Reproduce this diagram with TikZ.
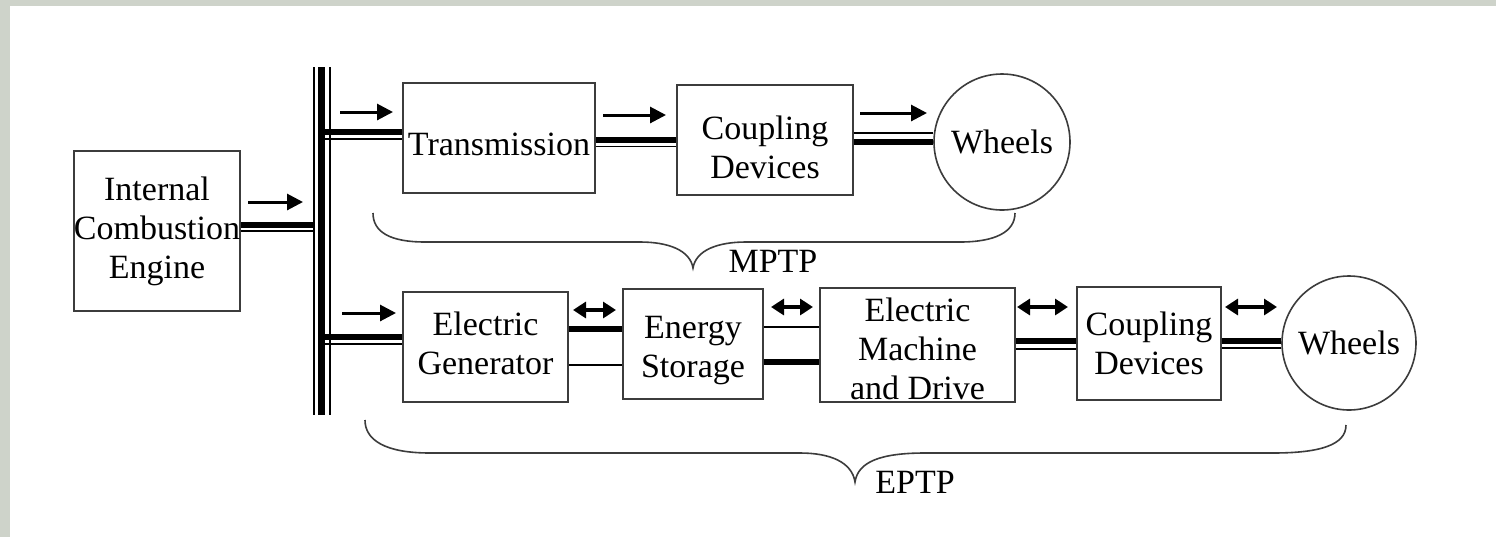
\documentclass[tikz,border=0pt]{standalone}
\usepackage{fontspec}
\setmainfont{Liberation Serif}
\usetikzlibrary{arrows.meta}
\definecolor{bgray}{RGB}{206,211,202}
\definecolor{edge}{RGB}{60,60,60}
\begin{document}
\begin{tikzpicture}[x=0.5pt,y=-0.5pt,
  font=\fontsize{17}{19.5}\selectfont,
  blk/.style={draw=edge,line width=0.8pt,inner sep=0pt,align=center,fill=white},
  whl/.style={circle,draw=edge,line width=0.8pt,inner sep=0pt,minimum size=#1},
  shk/.style={line width=3pt,black},
  shn/.style={line width=0.9pt,black},
  elk/.style={line width=2.8pt,black},
  eln/.style={line width=1.3pt,black},
  fwd/.style={line width=1.5pt,-{Triangle[length=8pt,width=8pt]}},
  bid/.style={line width=1.6pt,{Triangle[length=6.5pt,width=8pt]}-{Triangle[length=6.5pt,width=8pt]}},
  brc/.style={line width=0.8pt,edge},
  lbl/.style={inner sep=0pt,align=center}
]
\useasboundingbox (0,0) rectangle (1496,537);
\fill[bgray] (0,0) rectangle (1496,537);
\fill[white] (10,6) rectangle (1496,537);

% blocks
\node[blk,minimum width=83pt,minimum height=80pt] (ice) at (157,231) {Internal\\Combustion\\Engine};
\node[blk,minimum width=96pt,minimum height=55pt,
  label={[lbl,yshift=-3pt]center:Transmission}] (tr) at (499,138) {};
\node[blk,minimum width=88pt,minimum height=55pt,
  label={[lbl,yshift=-3.5pt]center:Coupling\\Devices}] (cd1) at (765,140) {};
\node[whl=68pt] (w1) at (1002,142) {Wheels};
\node[blk,minimum width=82.5pt,minimum height=55pt,
  label={[lbl,yshift=2pt]center:Electric\\Generator}] (gen) at (485.5,347) {};
\node[blk,minimum width=70pt,minimum height=55pt,
  label={[lbl,yshift=-3.5pt]center:Energy\\Storage}] (es) at (693,344) {};
\node[blk,minimum width=97.5pt,minimum height=57pt,
  label={[lbl,yshift=-2pt]center:Electric\\Machine\\and Drive}] (em) at (917.5,345) {};
\node[blk,minimum width=72pt,minimum height=56.5pt] (cd2) at (1149,343.5) {Coupling\\Devices};
\node[whl=67pt] (w2) at (1349,343) {Wheels};

% bus
\coordinate (bt) at (321.5,67);
\coordinate (bb) at (321.5,415);
\coordinate (busL) at (313,0);
\coordinate (busC) at (321.5,0);
\draw[line width=1pt] ([xshift=-3.9pt]bt) -- ([xshift=-3.9pt]bb);
\draw[line width=3.5pt] (bt) -- (bb);
\draw[line width=1pt] ([xshift=4pt]bt) -- ([xshift=4pt]bb);

% shafts
\draw[shk] (ice.east |- 0,224.5) -- (busL |- 0,224.5);
\draw[shn] (ice.east |- 0,231) -- (busL |- 0,231);
\draw[shk] (busC |- 0,132) -- (tr.west |- 0,132);
\draw[shn] (busC |- 0,139) -- (tr.west |- 0,139);
\draw[shk] (tr.east |- 0,140) -- (cd1.west |- 0,140);
\draw[shn] (tr.east |- 0,146.5) -- (cd1.west |- 0,146.5);
\draw[shn] (cd1.east |- 0,133) -- (w1.west |- 0,133);
\draw[shk] (cd1.east |- 0,141.5) -- (w1.west |- 0,141.5);

\draw[shk] (busC |- 0,336.5) -- (gen.west |- 0,336.5);
\draw[shn] (busC |- 0,344) -- (gen.west |- 0,344);
\draw[elk] (gen.east |- 0,329) -- (es.west |- 0,329);
\draw[eln] (gen.east |- 0,365) -- (es.west |- 0,365);
\draw[eln] (es.east |- 0,327) -- (em.west |- 0,327);
\draw[elk] (es.east |- 0,362) -- (em.west |- 0,362);
\draw[shk] (em.east |- 0,341) -- (cd2.west |- 0,341);
\draw[shn] (em.east |- 0,349) -- (cd2.west |- 0,349);
\draw[shk] (cd2.east |- 0,341) -- (w2.west |- 0,341);
\draw[shn] (cd2.east |- 0,348) -- (w2.west |- 0,348);

% flow arrows
\draw[fwd] (248,202) -- (303,202);
\draw[fwd] (340,112) -- (393,112);
\draw[fwd] (603,115) -- (666,115);
\draw[fwd] (860,113) -- (927,113);
\draw[fwd] (342,313) -- (396,313);
\draw[bid] (573,310) -- (616,310);
\draw[bid] (771,307) -- (813,307);
\draw[bid] (1017,307) -- (1068,307);
\draw[bid] (1225,307) -- (1277,307);

% braces
\draw[brc] (373,213) .. controls (373,232) and (390,242) .. (425,242) -- (640,242)
  .. controls (668,242) and (690,250) .. (693,268)
  .. controls (696,250) and (718,242) .. (746,242) -- (960,242)
  .. controls (995,242) and (1015,232) .. (1015,213);
\draw[brc] (365,420) .. controls (365,440) and (385,453) .. (430,453) -- (800,453)
  .. controls (830,453) and (852,462) .. (855,482)
  .. controls (858,462) and (880,453) .. (925,453) -- (1273,453)
  .. controls (1320,453) and (1346,445) .. (1346,425);
\node[lbl] (mptp) at (773,261) {MPTP};
\node[lbl] (eptp) at (915,482) {EPTP};
\end{tikzpicture}
\end{document}
